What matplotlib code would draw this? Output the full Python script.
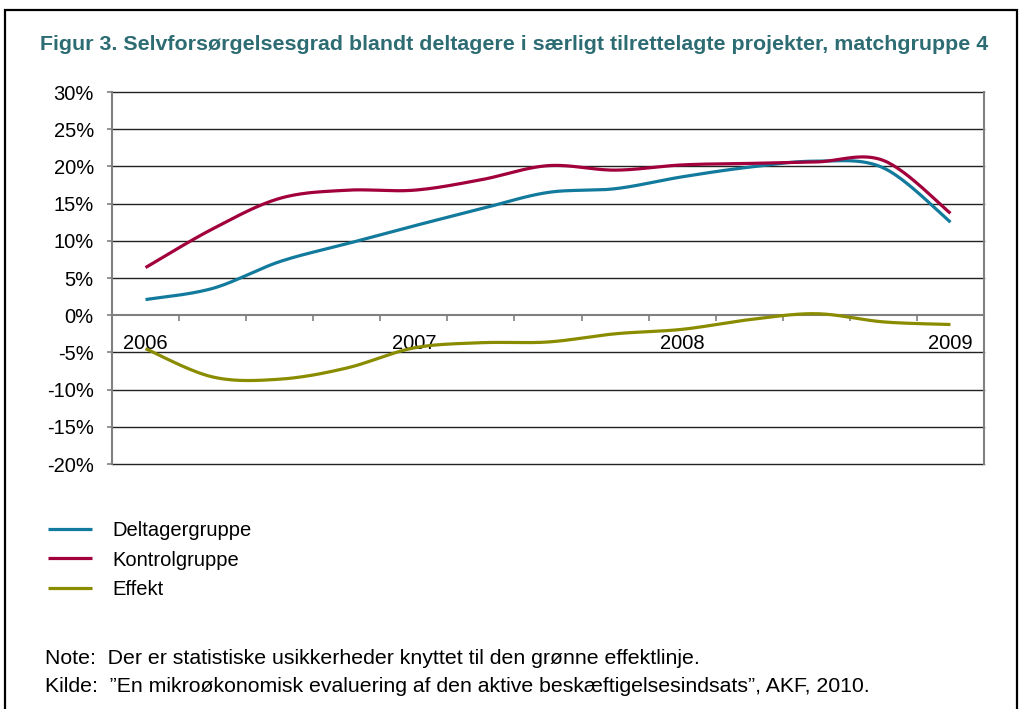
import numpy as np
import matplotlib
matplotlib.use("Agg")
import matplotlib.pyplot as plt
from matplotlib.patches import Rectangle

plt.rcParams['font.family'] = ['Liberation Sans', 'DejaVu Sans']

# quarterly observations, 2006 Q1 .. 2009 Q1
quarters = list(range(13))
year_labels = {0: "2006", 4: "2007", 8: "2008", 12: "2009"}

deltager = [2.1, 3.6, 7.2, 9.6, 12.0, 14.3, 16.5, 17.0, 18.6, 19.9, 20.7, 19.8, 12.5]
kontrol = [6.4, 11.6, 15.7, 16.8, 16.8, 18.2, 20.1, 19.5, 20.2, 20.4, 20.6, 20.8, 13.7]
effekt = [-4.5, -8.3, -8.6, -7.1, -4.4, -3.7, -3.6, -2.5, -1.9, -0.6, 0.2, -0.9, -1.25]

series = [
    ("Deltagergruppe", deltager, "#127a9c"),
    ("Kontrolgruppe", kontrol, "#a2003c"),
    ("Effekt", effekt, "#8a8c00"),
]

W, H = 1022, 709
FS = 14.5


def smooth(xs, ys, n=30):
    # catmull-rom curve through the points, like a "smoothed line" chart
    P = np.column_stack([xs, ys]).astype(float)
    P = np.vstack([P[0], P, P[-1]])
    out = []
    t = np.linspace(0, 1, n)[:, None]
    for i in range(1, len(P) - 2):
        p0, p1, p2, p3 = P[i - 1], P[i], P[i + 1], P[i + 2]
        seg = 0.5 * ((2 * p1) + (-p0 + p2) * t + (2 * p0 - 5 * p1 + 4 * p2 - p3) * t ** 2
                     + (-p0 + 3 * p1 - 3 * p2 + p3) * t ** 3)
        out.append(seg)
    out = np.vstack(out)
    return out[:, 0], out[:, 1]


fig = plt.figure(figsize=(W / 100, H / 100), dpi=100)

# frame around the whole figure box
fig.patches.append(Rectangle((5 / W, -0.05), 1012 / W, 1.05 - 10 / H, transform=fig.transFigure,
                             fill=False, edgecolor="black", linewidth=1.6))

fig.text(40 / W, 1 - 45 / H, "Figur 3. Selvforsørgelsesgrad blandt deltagere i særligt tilrettelagte projekter, matchgruppe 4",
         color="#2e6c74", fontsize=15.4, fontweight="bold", va="center", ha="left")

ax = fig.add_axes([112 / W, 1 - 464 / H, 872 / W, 372 / H])
ax.set_xlim(-0.5, 12.5)
ax.set_ylim(-20, 30)

yt = np.arange(-20, 31, 5)
ax.set_yticks(yt)
ax.set_yticklabels([f"{v}%" for v in yt], fontsize=FS)
for v in yt:
    if v != 0:
        ax.axhline(v, color="#222222", linewidth=1.0, zorder=1, clip_on=False)

# category axis crosses at 0
ax.spines['bottom'].set_position(('data', 0))
for side in ['bottom', 'left', 'right']:
    ax.spines[side].set_color("#808080")
    ax.spines[side].set_linewidth(1.5)
ax.spines['top'].set_visible(False)
ax.set_xticks(np.arange(0.5, 12.5, 1))
ax.set_xticklabels([])
ax.tick_params(axis='x', direction='out', length=4.3, color="#808080", width=1.2)
ax.tick_params(axis='y', direction='out', length=3.6, color="#808080", width=1.2, pad=9.5)
for q, lab in year_labels.items():
    ax.text(q, -3.85, lab, ha="center", va="center", fontsize=FS)

for name, vals, col in series:
    sx, sy = smooth(quarters, vals)
    ax.plot(sx, sy, color=col, linewidth=2.3, label=name, solid_capstyle="butt", zorder=3)

handles, labels = ax.get_legend_handles_labels()
fig.legend(handles, labels, loc="upper left", bbox_to_anchor=(40 / W, 1 - 513 / H), frameon=False,
           fontsize=FS, handlelength=2.2, handletextpad=1.0, labelspacing=0.52, borderaxespad=0)

fig.text(45 / W, 1 - 658 / H, "Note:  Der er statistiske usikkerheder knyttet til den grønne effektlinje.",
         fontsize=15.3, va="center", ha="left")
fig.text(45 / W, 1 - 687 / H, "Kilde:  \u201dEn mikroøkonomisk evaluering af den aktive beskæftigelsesindsats\u201d, AKF, 2010.",
         fontsize=15.3, va="center", ha="left")

fig.savefig("out.png", dpi=100)
